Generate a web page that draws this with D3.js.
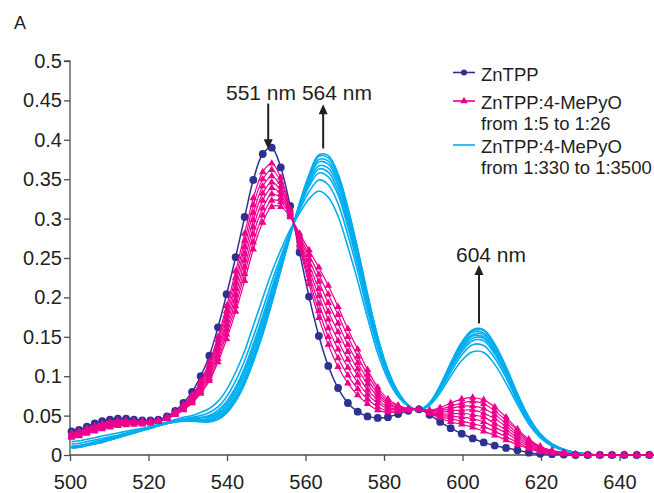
<!DOCTYPE html>
<html>
<head>
<meta charset="utf-8">
<script src="https://cdn.jsdelivr.net/npm/d3@7"></script>
<style>
  body { margin: 0; background: #fff; }
  svg { display: block; font-family: "Liberation Sans", Arial, sans-serif; }
</style>
</head>
<body>
<svg id="chart" width="654" height="493"></svg>
<script>
// wavelengths of the sampled points (nm)
const wavelengths = [500.4, 502.3, 504.3, 506.3, 508.2, 510.2, 512.2, 514.3, 516.3, 518.4,
  520.5, 522.5, 524.7, 526.8, 528.9, 531.1, 533.3, 535.5, 537.7, 539.9,
  542.2, 544.5, 546.7, 549.1, 551.4, 553.7, 556.1, 558.5, 560.9, 563.4,
  565.8, 568.3, 570.8, 573.3, 575.8, 578.4, 581.0, 583.6, 586.2, 588.9,
  591.6, 594.3, 597.0, 599.8, 602.6, 605.4, 608.2, 611.1, 614.0, 616.9,
  619.8, 622.8, 625.8, 628.8, 631.9, 635.0, 638.1, 641.2, 644.4, 647.6, 650.9]

// ZnTPP alone
const znTPP = [.030, .032, .036, .040, .043, .045, .046, .046, .045, .044,
  .044, .045, .049, .056, .066, .080, .100, .126, .162, .204,
  .251, .302, .349, .382, .390, .365, .316, .257, .201, .151,
  .113, .085, .066, .055, .049, .047, .048, .052, .056, .058,
  .051, .042, .034, .027, .021, .016, .012, .009, .006, .003,
  .0015, .001, .0005, 0, 0, 0, 0, 0, 0, 0, 0]

// ZnTPP:4-MePyO from 1:5 to 1:26
const mepyoLow = [
  [.028,.030,.034,.037,.040,.042,.044,.044,.043,.043,.043,.044,.048,.055,.064,.076,.094,.118,.150,.189,.233,.281,.326,.359,.370,.352,.312,.263,.217,.174,.140,.112,.091,.076,.065,.057,.054,.055,.057,.058,.053,.047,.042,.039,.035,.030,.025,.019,.013,.008,.004,.002,.001,0,0,0,0,0,0,0,0],
  [.027,.029,.033,.036,.039,.041,.043,.043,.043,.042,.043,.044,.048,.054,.063,.075,.092,.114,.146,.183,.225,.272,.317,.350,.362,.347,.311,.266,.223,.183,.150,.123,.101,.084,.071,.061,.056,.056,.057,.058,.053,.048,.046,.043,.040,.036,.030,.023,.016,.009,.005,.003,.001,0,0,0,0,0,0,0,0],
  [.026,.028,.032,.035,.038,.040,.042,.042,.042,.042,.042,.044,.047,.054,.062,.073,.090,.111,.141,.177,.218,.264,.307,.341,.354,.341,.309,.268,.229,.192,.161,.134,.111,.092,.077,.066,.059,.057,.057,.058,.054,.050,.049,.048,.046,.042,.035,.028,.019,.011,.006,.003,.002,.001,0,0,0,0,0,0,0],
  [.025,.027,.031,.034,.037,.039,.041,.041,.041,.041,.042,.043,.047,.053,.061,.072,.087,.108,.136,.171,.211,.255,.298,.332,.346,.336,.308,.271,.235,.202,.172,.145,.121,.101,.083,.070,.061,.058,.058,.058,.054,.052,.052,.053,.051,.048,.040,.032,.022,.013,.007,.004,.002,.001,0,0,0,0,0,0,0],
  [.025,.026,.030,.033,.036,.038,.040,.041,.041,.041,.041,.043,.047,.052,.060,.070,.085,.104,.132,.165,.203,.247,.289,.323,.339,.331,.306,.273,.241,.211,.182,.156,.131,.109,.090,.074,.064,.059,.058,.058,.055,.054,.056,.057,.057,.053,.046,.036,.025,.015,.008,.004,.002,.001,0,0,0,0,0,0,0],
  [.024,.025,.029,.032,.035,.037,.039,.040,.040,.040,.041,.043,.046,.052,.059,.069,.083,.101,.127,.159,.196,.238,.280,.313,.331,.326,.305,.276,.248,.220,.193,.167,.140,.117,.096,.078,.066,.060,.058,.058,.056,.056,.059,.062,.062,.059,.051,.040,.028,.017,.009,.005,.002,.001,0,0,0,0,0,0,0],
  [.023,.025,.028,.031,.034,.036,.038,.039,.039,.040,.041,.042,.046,.051,.058,.067,.080,.097,.122,.153,.189,.230,.270,.304,.323,.321,.303,.278,.254,.229,.204,.178,.150,.125,.102,.082,.068,.062,.058,.058,.056,.058,.062,.066,.068,.065,.056,.044,.031,.018,.010,.005,.003,.001,0,0,0,0,0,0,0],
  [.022,.024,.027,.030,.033,.035,.037,.038,.039,.039,.040,.042,.046,.051,.057,.066,.078,.094,.118,.147,.182,.221,.261,.295,.315,.315,.302,.281,.260,.238,.215,.188,.160,.134,.108,.086,.071,.063,.059,.058,.057,.060,.066,.071,.073,.070,.061,.048,.033,.020,.011,.006,.003,.001,0,0,0,0,0,0,0]
]

// ZnTPP:4-MePyO from 1:330 to 1:3500
const mepyoHigh = [
  [.009,.010,.012,.014,.016,.019,.022,.025,.028,.031,.034,.037,.040,.042,.043,.043,.042,.042,.045,.053,.068,.090,.118,.153,.192,.234,.278,.320,.356,.381,.380,.357,.314,.262,.205,.150,.108,.080,.063,.057,.066,.088,.117,.143,.159,.159,.141,.112,.078,.048,.027,.014,.007,.003,.001,0,0,0,0,0,0],
  [.009,.010,.012,.014,.016,.019,.022,.025,.028,.031,.034,.037,.040,.042,.043,.043,.043,.043,.046,.055,.070,.092,.120,.155,.194,.235,.278,.319,.354,.379,.377,.354,.312,.260,.203,.149,.107,.080,.063,.057,.066,.088,.116,.142,.158,.158,.140,.111,.077,.048,.027,.014,.007,.003,.001,0,0,0,0,0,0],
  [.010,.011,.013,.015,.017,.020,.023,.026,.028,.031,.034,.037,.040,.042,.044,.044,.043,.044,.048,.057,.073,.095,.124,.159,.197,.237,.279,.318,.352,.375,.373,.350,.308,.257,.201,.147,.107,.079,.063,.057,.066,.087,.115,.140,.156,.155,.138,.109,.076,.047,.026,.014,.007,.003,.001,0,0,0,0,0,0],
  [.010,.011,.013,.015,.017,.020,.023,.026,.029,.032,.034,.037,.040,.043,.044,.044,.044,.045,.050,.059,.075,.098,.127,.162,.200,.239,.280,.317,.350,.372,.369,.346,.304,.254,.199,.146,.106,.079,.063,.057,.065,.086,.114,.138,.153,.153,.136,.108,.075,.046,.026,.013,.007,.003,.001,0,0,0,0,0,0],
  [.010,.011,.013,.016,.018,.021,.023,.026,.029,.032,.035,.037,.041,.043,.044,.045,.045,.047,.052,.062,.079,.103,.132,.167,.204,.242,.280,.316,.347,.367,.364,.341,.299,.250,.196,.144,.104,.078,.063,.057,.065,.085,.112,.136,.151,.150,.133,.106,.074,.045,.025,.013,.007,.003,.001,0,0,0,0,0,0],
  [.011,.012,.014,.016,.018,.021,.024,.027,.029,.032,.035,.038,.041,.043,.045,.046,.047,.049,.054,.065,.083,.107,.136,.171,.208,.244,.281,.315,.344,.363,.359,.335,.294,.245,.193,.142,.103,.078,.062,.057,.065,.084,.110,.134,.148,.148,.131,.104,.072,.044,.025,.013,.006,.003,.001,0,0,0,0,0,0],
  [.011,.012,.014,.017,.019,.022,.024,.027,.030,.032,.035,.038,.041,.043,.045,.047,.048,.050,.057,.068,.086,.111,.141,.176,.212,.247,.282,.314,.341,.358,.353,.330,.289,.241,.189,.140,.102,.077,.062,.057,.065,.083,.109,.131,.145,.145,.128,.102,.071,.044,.024,.013,.006,.003,.001,0,0,0,0,0,0],
  [.014,.015,.017,.019,.021,.023,.025,.028,.030,.033,.035,.038,.041,.044,.046,.048,.050,.054,.061,.074,.094,.120,.150,.185,.220,.252,.283,.311,.334,.349,.343,.319,.279,.233,.183,.136,.100,.076,.062,.057,.064,.082,.105,.127,.140,.139,.123,.098,.068,.042,.023,.012,.006,.003,.001,0,0,0,0,0,0],
  [.017,.018,.020,.022,.024,.026,.028,.030,.032,.034,.036,.039,.042,.045,.048,.050,.054,.059,.068,.083,.105,.132,.164,.199,.232,.260,.286,.307,.325,.335,.327,.303,.264,.221,.174,.129,.096,.074,.062,.057,.063,.079,.100,.120,.131,.130,.115,.091,.064,.039,.022,.011,.006,.003,.001,0,0,0,0,0,0]
]

const xTicks = [500, 520, 540, 560, 580, 600, 620, 640]
const yTicks = [0, 0.05, 0.1, 0.15, 0.2, 0.25, 0.3, 0.35, 0.4, 0.45, 0.5]
const yTickLabels = ['0', '0.05', '0.1', '0.15', '0.2', '0.25', '0.3', '0.35', '0.4', '0.45', '0.5']

// arrows: wavelength, start value, end value (tip)
const peakArrows = [
  {wl: 550.5, from: 0.446, to: 0.388},
  {wl: 564.5, from: 0.389, to: 0.445},
  {wl: 604.2, from: 0.167, to: 0.241}
]

const legendItems = [
  {lines: ['ZnTPP'], color: '#2e3192', marker: 'circle'},
  {lines: ['ZnTPP:4-MePyO', 'from 1:5 to 1:26'], color: '#ec008c', marker: 'triangle'},
  {lines: ['ZnTPP:4-MePyO', 'from 1:330 to 1:3500'], color: '#00aeef', marker: null}
]

const NAVY = '#2e3192', PINK = '#ec008c', CYAN = '#00aeef', INK = '#231f20'

var svg = d3.select('#chart')
var x = d3.scaleLinear().domain([500, 650]).range([70, 658.75])
var y = d3.scaleLinear().domain([0, 0.5]).range([455, 61])

var line = d3.line()
  .x(function(d, i) { return x(wavelengths[i]) })
  .y(function(d) { return y(d) })
  .curve(d3.curveCatmullRom.alpha(0.5))

// axes
var yAxis = svg.append('g')
  .attr('transform', 'translate(70,0)')
  .call(d3.axisLeft(y).tickValues(yTicks).tickFormat(function(d, i) { return yTickLabels[i] }).tickSize(6).tickPadding(2))
var xAxis = svg.append('g')
  .attr('transform', 'translate(0,455)')
  .call(d3.axisBottom(x).tickValues(xTicks).tickFormat(d3.format('d')).tickSize(6).tickPadding(14))

svg.selectAll('.domain, .tick line').attr('stroke', '#4d4d4d').attr('stroke-width', 1.3)
svg.selectAll('.tick text').attr('fill', INK).style('font-size', '20px')
yAxis.select('.domain').attr('d', 'M-6,61H0V455')
xAxis.select('.domain').attr('d', 'M70,0H658.75')

// blue curves (bottom layer)
svg.append('g').selectAll('path')
  .data(mepyoHigh).enter()
  .append('path')
  .attr('d', line)
  .attr('fill', 'none')
  .attr('stroke', CYAN)
  .attr('stroke-width', 1.6)

// ZnTPP
svg.append('path')
  .attr('d', line(znTPP))
  .attr('fill', 'none')
  .attr('stroke', NAVY)
  .attr('stroke-width', 1.5)
svg.append('g').selectAll('circle')
  .data(znTPP).enter()
  .append('circle')
  .attr('cx', function(d, i) { return x(wavelengths[i]) })
  .attr('cy', function(d) { return y(d) })
  .attr('r', 3.9)
  .attr('fill', NAVY)

// pink curves with triangles
var tri = d3.symbol().type(d3.symbolTriangle).size(24)
var pinkG = svg.append('g').selectAll('g')
  .data(mepyoLow).enter()
  .append('g')
pinkG.append('path')
  .attr('d', line)
  .attr('fill', 'none')
  .attr('stroke', PINK)
  .attr('stroke-width', 1.2)
pinkG.selectAll('.tri')
  .data(function(d) { return d }).enter()
  .append('path')
  .attr('class', 'tri')
  .attr('d', tri)
  .attr('transform', function(d, i) { return 'translate(' + x(wavelengths[i]) + ',' + y(d) + ')' })
  .attr('fill', PINK)

// peak arrows
peakArrows.forEach(function(a) {
  var ax = x(a.wl), y0 = y(a.from), y1 = y(a.to)
  var dir = y1 > y0 ? 1 : -1
  svg.append('line')
    .attr('x1', ax).attr('x2', ax)
    .attr('y1', y0).attr('y2', y1 - dir * 9)
    .attr('stroke', INK).attr('stroke-width', 2)
  svg.append('path')
    .attr('d', 'M' + (ax - 4.5) + ',' + (y1 - dir * 10) + 'L' + (ax + 4.5) + ',' + (y1 - dir * 10) + 'L' + ax + ',' + y1 + 'Z')
    .attr('fill', INK)
})

svg.append('text').attr('x', 226).attr('y', 100)
  .attr('fill', INK).style('font-size', '21px').text('551 nm 564 nm')
svg.append('text').attr('x', 456).attr('y', 262)
  .attr('fill', INK).style('font-size', '21px').text('604 nm')
svg.append('text').attr('x', 14).attr('y', 29)
  .attr('fill', INK).style('font-size', '18px').text('A')

// legend
var legendTop = [72.5, 101, 145]
legendItems.forEach(function(item, k) {
  var ly = legendTop[k]
  var g = svg.append('g')
  g.append('line').attr('x1', 453).attr('x2', 475).attr('y1', ly).attr('y2', ly)
    .attr('stroke', item.color).attr('stroke-width', 1.6)
  if (item.marker === 'circle')
    g.append('circle').attr('cx', 464).attr('cy', ly).attr('r', 3).attr('fill', item.color)
  if (item.marker === 'triangle')
    g.append('path').attr('d', d3.symbol().type(d3.symbolTriangle).size(24))
      .attr('transform', 'translate(464,' + ly + ')').attr('fill', item.color)
  item.lines.forEach(function(t, j) {
    g.append('text').attr('x', 481).attr('y', ly + 2 + j * 20.5).attr('dy', '0.35em')
      .attr('fill', INK).style('font-size', '18.5px').text(t)
  })
})
</script>
</body>
</html>
